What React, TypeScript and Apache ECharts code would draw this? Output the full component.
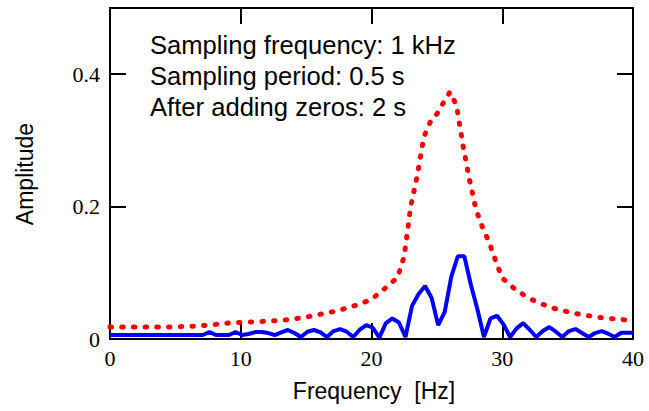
import React, { useEffect, useRef } from 'react';
import * as echarts from 'echarts';

// Zero-padded spectrum (blue, solid)
const blueFreq = [0, 7.1, 7.6, 8.1, 9.1, 9.6, 10.1, 10.6, 11.1, 11.6, 12.1, 12.6, 13.1, 13.6, 14.1, 14.6, 15.1, 15.6, 16.1, 16.6, 17.1, 17.6, 18.1, 18.6, 19.1, 19.6, 20.1, 20.6, 21.1, 21.6, 22.1, 22.6, 23.1, 23.6, 24.1, 24.6, 25.1, 25.6, 26.1, 26.6, 27.1, 27.6, 28.1, 28.6, 29.1, 29.6, 30.1, 30.6, 31.1, 31.6, 32.1, 32.6, 33.1, 33.6, 34.1, 34.6, 35.1, 35.6, 36.1, 36.6, 37.1, 37.6, 38.1, 38.6, 39.1, 39.6, 40];
const blueAmp = [0.006, 0.006, 0.0105, 0.006, 0.006, 0.0105, 0.006, 0.0075, 0.0105, 0.0105, 0.009, 0.006, 0.010, 0.0136, 0.009, 0.003, 0.011, 0.0136, 0.010, 0.003, 0.012, 0.015, 0.011, 0.003, 0.014, 0.021, 0.017, 0.002, 0.024, 0.031, 0.025, 0.003, 0.050, 0.068, 0.080, 0.062, 0.021, 0.041, 0.094, 0.125, 0.125, 0.082, 0.045, 0.003, 0.031, 0.035, 0.022, 0.003, 0.016, 0.024, 0.014, 0.003, 0.012, 0.018, 0.011, 0.003, 0.012, 0.015, 0.009, 0.003, 0.009, 0.012, 0.008, 0.003, 0.0095, 0.0095, 0.0095];

// Reference spectrum (red, dotted)
const redFreq = [0, 2, 4, 6, 7, 8, 9, 10, 11, 12, 13, 14, 15, 16, 17, 18, 19, 20, 21, 22, 22.5, 23, 23.5, 24, 24.5, 25, 25.5, 26, 26.5, 27, 27.5, 28, 28.5, 29, 29.5, 30, 31, 32, 33, 34, 35, 36, 37, 38, 39, 40];
const redAmp = [0.018, 0.018, 0.018, 0.019, 0.020, 0.022, 0.024, 0.025, 0.026, 0.027, 0.028, 0.030, 0.033, 0.037, 0.041, 0.046, 0.052, 0.060, 0.076, 0.093, 0.125, 0.200, 0.247, 0.305, 0.328, 0.340, 0.357, 0.373, 0.353, 0.292, 0.240, 0.195, 0.168, 0.146, 0.118, 0.092, 0.075, 0.062, 0.053, 0.046, 0.041, 0.037, 0.034, 0.031, 0.030, 0.027];

const xTickValues = [0, 10, 20, 30, 40];
const yTickValues = [0, 0.2, 0.4];
const notes = ['Sampling frequency: 1 kHz', 'Sampling period: 0.5 s', 'After adding zeros: 2 s'];
const xTitle = 'Frequency  [Hz]';
const yTitle = 'Amplitude';

export default function App() {
  const ref = useRef<HTMLDivElement>(null);
  useEffect(() => {
    const chart = echarts.init(ref.current as HTMLDivElement, null, { renderer: 'svg' });
    const line = { show: true, onZero: false, lineStyle: { color: '#000', width: 2 } };
    const tick = { show: true, inside: true, length: 16, lineStyle: { color: '#000', width: 2 } };
    const labelFont = { fontFamily: 'Liberation Serif', fontSize: 22, color: '#000' };
    const xBase = { type: 'value', min: 0, max: 40, interval: 10, axisLine: line, axisTick: tick, splitLine: { show: false } };
    const yBase = { type: 'value', min: 0, max: 0.5, interval: 0.2, axisLine: line, axisTick: tick, splitLine: { show: false } };
    chart.setOption({
      animation: false,
      backgroundColor: '#fff',
      grid: { left: 110, right: 16, top: 8, bottom: 72, containLabel: false },
      xAxis: [
        { ...xBase, position: 'bottom', axisLabel: { ...labelFont, margin: 8, formatter: (v: number) => (xTickValues.includes(v) ? String(v) : '') } },
        { ...xBase, position: 'top', axisLabel: { show: false } },
      ],
      yAxis: [
        { ...yBase, position: 'left', axisLabel: { ...labelFont, margin: 10, showMaxLabel: false, formatter: (v: number) => { const t = yTickValues.find((y) => Math.abs(y - v) < 1e-9); return t === undefined ? '' : (t === 0 ? '0' : t.toFixed(1)); } } },
        { ...yBase, position: 'right', axisLabel: { show: false } },
      ],
      series: [
        {
          type: 'line',
          data: redFreq.map((f, i) => [f, redAmp[i]]),
          showSymbol: false,
          lineStyle: { color: '#ff0000', width: 5, type: [1.5, 10.2], cap: 'round' },
          z: 2,
        },
        {
          type: 'line',
          data: blueFreq.map((f, i) => [f, blueAmp[i]]),
          showSymbol: false,
          lineStyle: { color: '#0000ff', width: 4 },
          z: 3,
        },
      ],
      graphic: [
        ...notes.map((t, i) => ({
          type: 'text',
          left: 150,
          top: 32 + i * 31.2,
          style: { text: t, fontFamily: 'Liberation Sans', fontSize: 25.6, fill: '#000' },
        })),
        {
          type: 'text',
          x: 374,
          y: 391,
          style: { text: xTitle, fontFamily: 'Liberation Sans', fontSize: 23, fill: '#000', align: 'center', verticalAlign: 'middle' },
        },
        {
          type: 'text',
          x: 25,
          y: 174,
          rotation: Math.PI / 2,
          style: { text: yTitle, fontFamily: 'Liberation Sans', fontSize: 23, fill: '#000', align: 'center', verticalAlign: 'middle' },
        },
      ],
    });
    return () => chart.dispose();
  }, []);
  return <div ref={ref} style={{ position: 'fixed', left: 0, top: 0, width: 649, height: 411 }} />;
}
